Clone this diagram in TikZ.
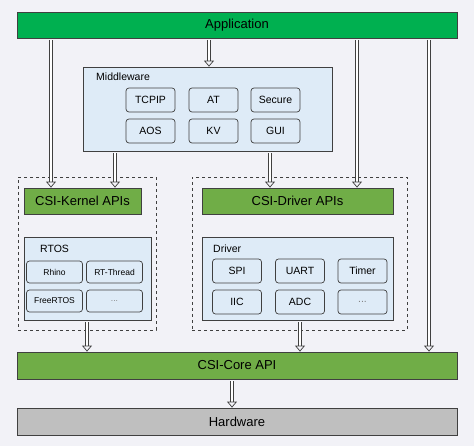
\documentclass[tikz,border=0pt]{standalone}
\usepackage{fontspec}
\setmainfont{Liberation Sans}
\usetikzlibrary{arrows.meta}
\definecolor{appgreen}{RGB}{0,176,80}
\definecolor{csigreen}{RGB}{112,173,71}
\definecolor{hwgray}{RGB}{191,191,191}
\definecolor{paleblue}{RGB}{222,235,247}
\definecolor{bggray}{RGB}{242,242,247}
\definecolor{edgegray}{RGB}{64,64,64}
\tikzset{
    bar/.style     = {draw=edgegray, line width=0.8pt, minimum width=440pt, minimum height=26pt,
                      inner sep=0pt, font=\fontsize{13}{15}\selectfont},
    group/.style   = {draw=edgegray, line width=0.7pt, fill=paleblue, inner sep=0pt},
    module/.style  = {draw=edgegray, line width=0.7pt, fill=paleblue, rounded corners=3pt,
                      minimum width=49pt, minimum height=24pt, inner sep=0pt,
                      font=\fontsize{10.5}{12}\selectfont},
    osmodule/.style= {module, minimum width=56pt, minimum height=22pt,
                      font=\fontsize{8.5}{10}\selectfont},
    frame/.style   = {draw=edgegray, dashed, line width=0.7pt, inner sep=0pt},
    api/.style     = {draw=edgegray, line width=0.8pt, fill=csigreen, minimum height=26pt,
                      inner sep=0pt, font=\fontsize{13}{15}\selectfont},
    label/.style   = {anchor=west, inner sep=0pt, font=\fontsize{10.5}{12}\selectfont},
    hollow/.style  = {draw=edgegray, line width=0.7pt, double=white, double distance=2.6pt,
                      -{Triangle[open, length=6pt, width=10pt]}, shorten <=2pt}
}
\begin{document}
\begin{tikzpicture}[x=1pt, y=-1pt]
  \fill[bggray] (0,0) rectangle (474,446);
  \useasboundingbox (0,0) rectangle (474,446);

  % top and bottom layers
  \node[bar, fill=appgreen] (app)  at (237,25)    {Application};
  \node[bar, fill=csigreen, minimum height=27pt] (core) at (237,365.5) {CSI-Core API};
  \node[bar, fill=hwgray, minimum height=27pt]   (hw)   at (237,421.5) {Hardware};

  % middleware
  \begin{scope}
    \node[group, minimum width=249pt, minimum height=84pt] (mid) at (207.5,109) {};
    \node[label] (midlabel) at (96,77) {Middleware};
    \node[module] (tcpip)  at (150.5,100) {TCPIP};
    \node[module] (at)     at (213.5,100) {AT};
    \node[module] (secure) at (275.5,100) {Secure};
    \node[module] (aos)    at (150.5,131) {AOS};
    \node[module] (kv)     at (213.5,131) {KV};
    \node[module] (gui)    at (275.5,131) {GUI};
  \end{scope}

  % kernel side
  \begin{scope}
    \node[frame, minimum width=138pt, minimum height=153pt] (kframe) at (87,253.5) {};
    \node[api, minimum width=117pt] (kapi) at (82.5,201) {CSI-Kernel APIs};
    \node[group, minimum width=127pt, minimum height=83pt] (rtos) at (87.5,278.5) {};
    \node[label] (rtoslabel) at (40,249) {RTOS};
    \node[osmodule] (rhino)    at (54.5,272)  {Rhino};
    \node[osmodule] (rtthread) at (114.5,272) {RT-Thread};
    \node[osmodule] (freertos) at (54.5,301)  {FreeRTOS};
    \node[osmodule] (osmore)   at (114.5,301) {\textcolor{gray}{...}};
  \end{scope}

  % driver side
  \begin{scope}
    \node[frame, minimum width=215pt, minimum height=153pt] (dframe) at (299.5,253.5) {};
    \node[api, minimum width=191pt] (dapi) at (297.5,201) {CSI-Driver APIs};
    \node[group, minimum width=191pt, minimum height=83pt] (drv) at (297.5,278.5) {};
    \node[label] (drvlabel) at (213,249) {Driver};
    \node[module] (spi)     at (237,271)   {SPI};
    \node[module] (uart)    at (300,271)   {UART};
    \node[module] (timer)   at (362.5,271) {Timer};
    \node[module] (iic)     at (237,302)   {IIC};
    \node[module] (adc)     at (300,302)   {ADC};
    \node[module] (drvmore) at (362.5,302) {\textcolor{gray}{...}};
  \end{scope}

  % arrows
  \begin{scope}
    \draw[hollow] (51,0 |- app.south)  -- (51,0 |- kapi.north);
    \draw[hollow] (209,0 |- app.south) -- (209,0 |- mid.north);
    \draw[hollow] (357,0 |- app.south) -- (357,0 |- dapi.north);
    \draw[hollow] (429,0 |- app.south) -- (429,0 |- core.north);
    \draw[hollow] (115,0 |- mid.south) -- (115,0 |- kapi.north);
    \draw[hollow] (270,0 |- mid.south) -- (270,0 |- dapi.north);
    \draw[hollow] (87,0 |- rtos.south) -- (87,0 |- core.north);
    \draw[hollow] (300,0 |- drv.south) -- (300,0 |- core.north);
    \draw[hollow] (232,0 |- core.south) -- (232,0 |- hw.north);
  \end{scope}
\end{tikzpicture}
\end{document}
